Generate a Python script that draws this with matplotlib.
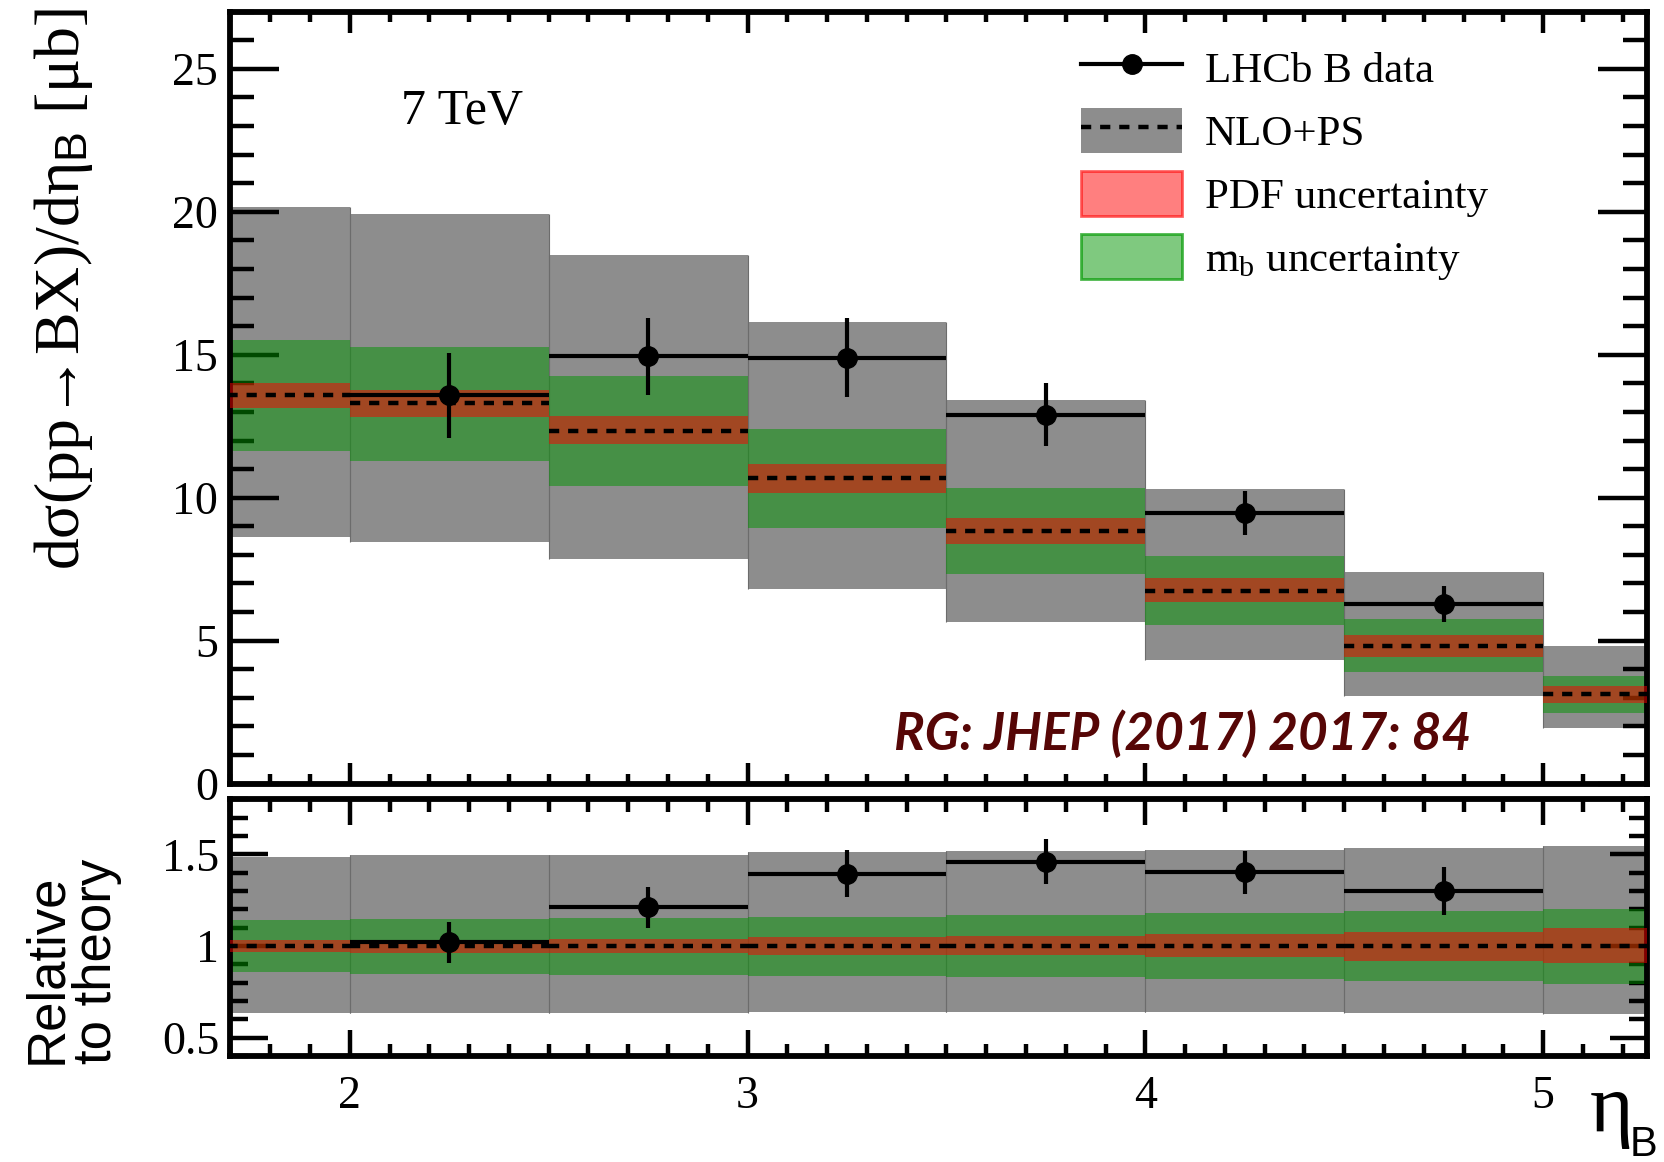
import matplotlib
matplotlib.use("Agg")
import matplotlib.pyplot as plt
from matplotlib.ticker import MultipleLocator, FixedLocator
from matplotlib.patches import Patch
from matplotlib.lines import Line2D
import numpy as np

# ---------------- data ----------------
# theory bins in eta_B
bin_lo = [1.5, 2.0, 2.5, 3.0, 3.5, 4.0, 4.5, 5.0]
bin_hi = [2.0, 2.5, 3.0, 3.5, 4.0, 4.5, 5.0, 5.5]

# NLO+PS central prediction [mub]
nlo_central = [13.58, 13.30, 12.35, 10.68, 8.83, 6.75, 4.82, 3.12]

# uncertainty bands relative to the central prediction
scale_hi = [1.486, 1.497, 1.497, 1.513, 1.519, 1.526, 1.535, 1.546]
scale_lo = [0.635, 0.635, 0.635, 0.638, 0.640, 0.640, 0.635, 0.627]
mb_hi = [1.142, 1.148, 1.153, 1.161, 1.170, 1.181, 1.192, 1.203]
mb_lo = [0.856, 0.849, 0.843, 0.838, 0.832, 0.821, 0.810, 0.794]
pdf_hi = [1.031, 1.035, 1.040, 1.048, 1.053, 1.065, 1.076, 1.098]
pdf_lo = [0.967, 0.963, 0.961, 0.952, 0.950, 0.939, 0.921, 0.906]

# LHCb measurement
data_x = [2.25, 2.75, 3.25, 3.75, 4.25, 4.75]
data_halfwidth = [0.25, 0.25, 0.25, 0.25, 0.25, 0.25]
data_val = [13.58, 14.95, 14.90, 12.90, 9.46, 6.27]
data_err = [1.49, 1.35, 1.38, 1.10, 0.78, 0.63]

x_ticks = [2, 3, 4, 5]

# ---------------- style ----------------
plt.rcParams["font.family"] = ["Liberation Serif", "DejaVu Serif"]
plt.rcParams["mathtext.fontset"] = "custom"
plt.rcParams["mathtext.rm"] = "Liberation Serif"
plt.rcParams["mathtext.it"] = "Liberation Serif:italic"
plt.rcParams["mathtext.sf"] = "Liberation Sans"

GRAY = "#8d8d8d"
GREEN = (0.0, 0.58, 0.0, 0.5)
RED = (1.0, 0.0, 0.0, 0.5)
DASH = (0, (2.3, 2.0))

fig = plt.figure(figsize=(16.65, 11.62), dpi=100)
ax1 = fig.add_axes([0.1384, 0.3257, 0.8505, 0.6642])
ax2 = fig.add_axes([0.1384, 0.0912, 0.8505, 0.2208])

lo = np.array(bin_lo)
hi = np.array(bin_hi)
width = hi - lo
cen = np.array(nlo_central)


def draw_bands(ax, ref):
    """Draw the theory bands scaled by ref (central values or ones)."""
    s_hi = ref * np.array(scale_hi)
    s_lo = ref * np.array(scale_lo)
    ax.bar(lo, s_hi - s_lo, bottom=s_lo, width=width, align="edge",
           color=GRAY, linewidth=0, zorder=1)
    ax.vlines(np.concatenate([lo, hi]), np.concatenate([s_lo, s_lo]),
              np.concatenate([s_hi, s_hi]), colors="#6c6c6c", linewidth=0.8, zorder=1.5)
    m_hi = ref * np.array(mb_hi)
    m_lo = ref * np.array(mb_lo)
    ax.bar(lo, m_hi - m_lo, bottom=m_lo, width=width, align="edge",
           color=GREEN, linewidth=0, zorder=2)
    p_hi = ref * np.array(pdf_hi)
    p_lo = ref * np.array(pdf_lo)
    ax.bar(lo, p_hi - p_lo, bottom=p_lo, width=width, align="edge",
           color=RED, linewidth=0, zorder=3)
    ax.hlines(ref, lo, hi, colors="black", linestyles=DASH, linewidth=3.2, zorder=4)


# top panel: absolute cross-section
draw_bands(ax1, cen)
ax1.errorbar(data_x, data_val, xerr=data_halfwidth, yerr=data_err, fmt="o",
             color="black", ms=14, elinewidth=3, capsize=0, zorder=5)

# bottom panel: ratio to the central prediction
dv = np.array(data_val)
de = np.array(data_err)
theory_at_data = cen[1:7]
draw_bands(ax2, np.ones_like(cen))
ax2.errorbar(data_x, dv / theory_at_data, xerr=data_halfwidth,
             yerr=de / theory_at_data, fmt="o", color="black", ms=14,
             elinewidth=3, capsize=0, zorder=5)

# ---------------- axes ----------------
for ax in (ax1, ax2):
    ax.set_xlim(1.7, 5.26)
    ax.xaxis.set_major_locator(FixedLocator(x_ticks))
    ax.xaxis.set_minor_locator(MultipleLocator(0.1))
    ax.tick_params(which="both", direction="in", top=True, right=True,
                   width=3.2, labelsize=33)
    for sp in ax.spines.values():
        sp.set_linewidth(4.2)

ax1.set_ylim(0, 27)
ax1.yaxis.set_major_locator(MultipleLocator(5))
ax1.yaxis.set_minor_locator(MultipleLocator(1))
ax1.tick_params(axis="y", which="major", length=35, pad=9)
ax1.tick_params(axis="y", which="minor", length=17)
ax1.tick_params(axis="x", which="major", length=15, labelbottom=False)
ax1.tick_params(axis="x", which="minor", length=7)

ax2.set_ylim(0.4, 1.8)
ax2.yaxis.set_major_locator(FixedLocator([0.5, 1.0, 1.5]))
ax2.yaxis.set_minor_locator(MultipleLocator(0.1))
ax2.set_yticklabels(["0.5", "1", "1.5"])
ax2.tick_params(axis="y", which="major", length=27, pad=8)
ax2.tick_params(axis="y", which="minor", length=13)
ax2.tick_params(axis="x", which="major", length=19, pad=14)
ax2.tick_params(axis="x", which="minor", length=9)

# ---------------- labels ----------------
fig.text(0.0384, 0.7513, r"dσ(pp→BX)/dη$_\mathsf{B}$ [μb]", rotation=90,
         ha="center", va="center", fontsize=46)
fig.text(0.0432, 0.173, "Relative\nto theory", rotation=90, ha="center",
         va="center", fontsize=38, linespacing=1.0, multialignment="left",
         family=["Liberation Sans Narrow", "Liberation Sans", "DejaVu Sans"])
fig.text(0.9550, 0.027, "η", fontsize=60, ha="left", va="baseline")
fig.text(0.9790, 0.005, "B", fontsize=30, ha="left", va="baseline",
         family=["Liberation Sans", "DejaVu Sans"])

ax1.text(2.13, 23.06, "7 TeV", fontsize=36, ha="left", va="baseline")
ax1.text(4.095, 1.70, "RG: JHEP (2017) 2017: 84", fontsize=37,
         fontweight="bold", fontstyle="italic", color="#560606",
         ha="center", va="center", family=["Lato", "DejaVu Sans"])

# ---------------- legend ----------------
handles = [
    Line2D([], [], color="black", marker="o", ms=14, lw=3),
    (Patch(facecolor=GRAY, edgecolor="none"),
     Line2D([], [], color="black", ls=DASH, lw=3.2)),
    Patch(facecolor=RED, edgecolor=(1.0, 0.0, 0.0, 0.6), linewidth=2),
    Patch(facecolor=GREEN, edgecolor=(0.0, 0.6, 0.0, 0.7), linewidth=2),
]
labels = ["LHCb B data", "NLO+PS", "PDF uncertainty",
          r"m$_\mathrm{b}$ uncertainty"]
fig.legend(handles, labels, loc="upper left", bbox_to_anchor=(0.6492, 0.9611),
           frameon=False, fontsize=31, handlelength=2.35, handleheight=1.22,
           handletextpad=0.53, labelspacing=0.40, borderpad=0, borderaxespad=0,
           numpoints=1)

fig.savefig("out.png", dpi=100)
